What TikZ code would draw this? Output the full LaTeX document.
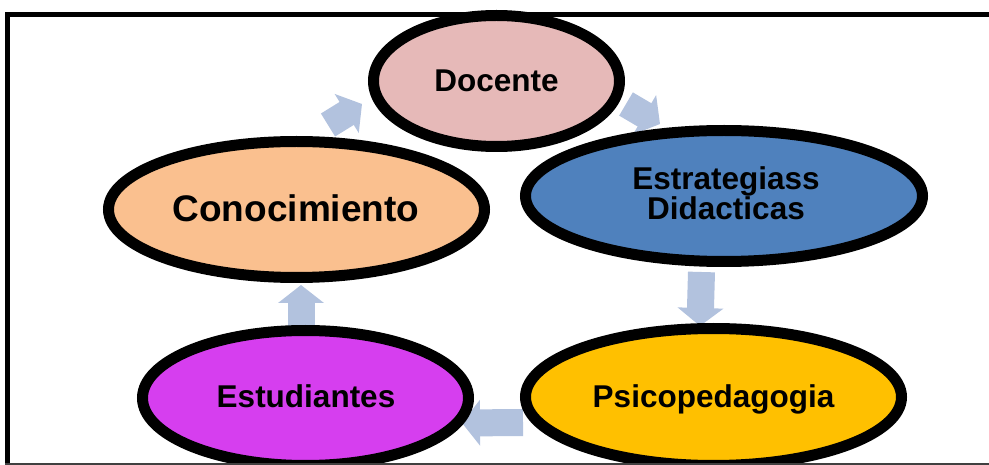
\documentclass[tikz,border=0pt]{standalone}
\usepackage{fontspec}
\setmainfont{Liberation Sans}
\usetikzlibrary{shapes.geometric,arrows.meta}
\definecolor{docc}{HTML}{E6B9B8}
\definecolor{conc}{HTML}{FAC08F}
\definecolor{estc}{HTML}{4F81BD}
\definecolor{psic}{HTML}{FFC000}
\definecolor{estuc}{HTML}{D63EEF}
\definecolor{arrc}{HTML}{B2C2DE}
\tikzset{
  bubble/.style={ellipse, draw=black, line width=11pt, inner sep=0pt, outer sep=0pt},
  lbl/.style={anchor=base, inner sep=0pt, font=\bfseries\fontsize{31.5}{30}\selectfont, align=center},
  blockarrow/.style={draw=arrc, line width=27pt, -{Triangle[width=45pt,length=18pt]}},
  frameline/.style={draw=black, line width=5pt}
}
\begin{document}
\begin{tikzpicture}[x=1pt,y=-1pt]
\useasboundingbox (0,0) rectangle (989,465);
\clip (0,0) rectangle (989,465);
% frame
\draw[frameline] (7.5,463) -- (7.5,14.5) -- (995,14.5);
% arrow end points
\coordinate (a1s) at (328,125);  \coordinate (a1e) at (362,104);
\coordinate (a2s) at (626,104);  \coordinate (a2e) at (660,124);
\coordinate (a3s) at (701.5,272); \coordinate (a3e) at (700,326);
\coordinate (a4s) at (523,422.5); \coordinate (a4e) at (462,423);
\coordinate (a5s) at (301,330);  \coordinate (a5e) at (301,285);
\draw[blockarrow] (a1s) -- (a1e);
\draw[blockarrow] (a2s) -- (a2e);
\draw[blockarrow] (a3s) -- (a3e);
\draw[blockarrow] (a4s) -- (a4e);
\draw[blockarrow] (a5s) -- (a5e);
% ellipses
\node[bubble, fill=docc, minimum width=246pt, minimum height=131pt] (doc) at (496.5,81) {};
\node[bubble, fill=conc, minimum width=376pt, minimum height=136pt] (con) at (296.5,209.5) {};
\node[bubble, fill=estc, minimum width=397pt, minimum height=131pt] (est) at (724,196) {};
\node[bubble, fill=psic, minimum width=376pt, minimum height=137pt] (psi) at (713.5,397) {};
\node[bubble, fill=estuc, minimum width=326pt, minimum height=135pt] (estu) at (305.5,398) {};
% labels
\node[lbl] (tdoc) at (496.5,92) {Docente};
\node[lbl, font=\bfseries\fontsize{37}{40}\selectfont] (tcon) at (296,222) {Conocimiento};
\node[lbl] (test1) at (726,190) {Estrategiass};
\node[lbl] (test2) at (726,220) {Didacticas};
\node[lbl] (tpsi) at (713.5,407) {Psicopedagogia};
\node[lbl] (testu) at (306,407) {Estudiantes};
% bottom frame line
\draw[draw=black!75, line width=2pt] (5,464) -- (989,464);
\end{tikzpicture}
\end{document}
